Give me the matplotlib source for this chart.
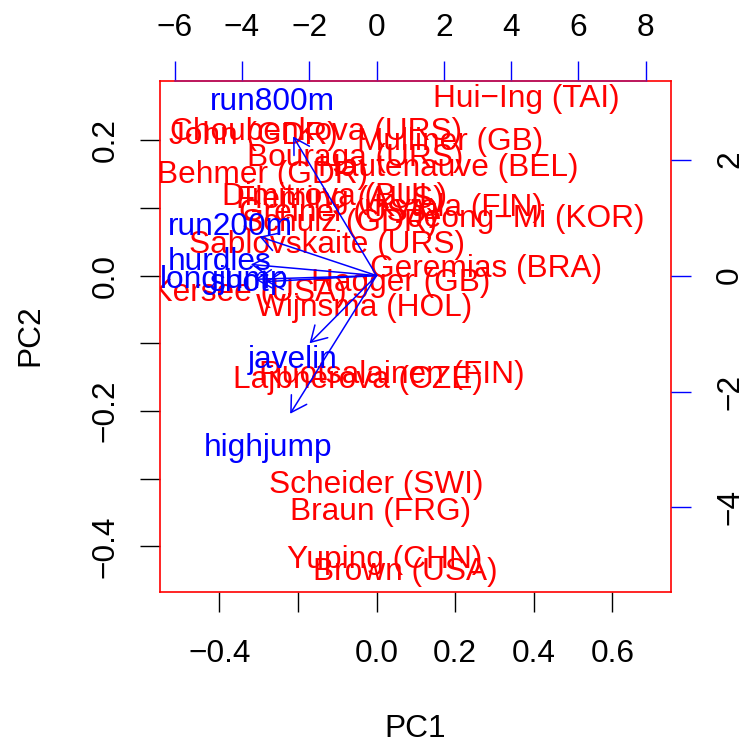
"""
Biplot of the first two principal components of the heptathlon results.
Athlete scores are drawn against the bottom/left axes, event loadings
against the top/right axes.
"""

from __future__ import annotations

import matplotlib

matplotlib.use("Agg")
import matplotlib.pyplot as plt
from matplotlib.patches import FancyArrowPatch

plt.rcParams["font.family"] = ["Liberation Sans", "DejaVu Sans"]

athletes = [
    "Joyner−Kersee (USA)", "John (GDR)", "Behmer (GDR)", "Sablovskaite (URS)",
    "Choubenkova (URS)", "Schulz (GDR)", "Fleming (AUS)", "Greiner (USA)",
    "Lajbnerova (CZE)", "Bouraga (URS)", "Wijnsma (HOL)", "Dimitrova (BUL)",
    "Scheider (SWI)", "Braun (FRG)", "Ruotsalainen (FIN)", "Yuping (CHN)",
    "Hagger (GB)", "Brown (USA)", "Mulliner (GB)", "Hautenauve (BEL)",
    "Kytola (FIN)", "Geremias (BRA)", "Hui−Ing (TAI)", "Jeong−Mi (KOR)",
]
pc1 = [
    -0.468, -0.313, -0.289, -0.126,
    -0.154, -0.094, -0.093, -0.096,
    -0.047, -0.055, -0.032, -0.107,
    -0.002, 0.009, 0.040, 0.021,
    0.062, 0.072, 0.187, 0.182,
    0.208, 0.278, 0.381, 0.380,
]
pc2 = [
    -0.026, 0.206, 0.149, 0.045,
    0.212, 0.078, 0.112, 0.092,
    -0.154, 0.174, -0.048, 0.116,
    -0.309, -0.349, -0.147, -0.420,
    -0.011, -0.438, 0.197, 0.159,
    0.100, 0.010, 0.261, 0.084,
]

events = ["hurdles", "highjump", "shot", "run200m", "longjump", "javelin", "run800m"]
load1 = [-4.67, -3.21, -4.10, -4.35, -4.52, -2.49, -3.10]
load2 = [0.24, -2.98, -0.13, 0.84, -0.08, -1.46, 3.00]

x_ticks = [-0.4, -0.2, 0.0, 0.2, 0.4, 0.6]
x_tick_labels = ["−0.4", "", "0.0", "0.2", "0.4", "0.6"]
y_ticks = [-0.4, -0.3, -0.2, -0.1, 0.0, 0.1, 0.2]
y_tick_labels = ["−0.4", "", "−0.2", "", "0.0", "", "0.2"]
top_ticks = [-6, -4, -2, 0, 2, 4, 6, 8]
right_ticks = [-4, -2, 0, 2]

XLIM = (-0.551, 0.750)
YLIM = (-0.4678, 0.2874)
RATIO = 11.68
ARROW_FRAC = 0.8
FS = 22.8
W, H = 742, 740


def plot(out_file: str = "out.png") -> None:
    fig = plt.figure(figsize=(W / 100, H / 100), dpi=100)
    rect = [160 / W, (H - 592.3) / H, 511.3 / W, 511.3 / H]

    ax = fig.add_axes(rect)
    ax.set_xlim(*XLIM)
    ax.set_ylim(*YLIM)
    for side in ax.spines.values():
        side.set_color("#ff0000")
        side.set_linewidth(1.2)
    ax.set_xticks(x_ticks, x_tick_labels)
    ax.set_yticks(y_ticks, y_tick_labels)
    ax.tick_params(axis="x", length=14.5, width=1.0, pad=19, labelsize=FS)
    ax.tick_params(axis="y", length=14.5, width=1.0, pad=14, labelsize=FS,
                   labelrotation=90)
    for lab in ax.get_yticklabels():
        lab.set_va("center")

    for name, x, y in zip(athletes, pc1, pc2):
        ax.text(x, y, name, color="#ff0000", fontsize=FS, ha="center",
                va="center", clip_on=True)

    # loadings live on a second set of axes sharing the same box
    ax2 = fig.add_axes(rect, facecolor="none")
    ax2.set_xlim(XLIM[0] * RATIO, XLIM[1] * RATIO)
    ax2.set_ylim(YLIM[0] * RATIO, YLIM[1] * RATIO)
    ax2.xaxis.tick_top()
    ax2.yaxis.tick_right()
    ax2.set_xticks(top_ticks, [f"{t}".replace("-", "−") for t in top_ticks])
    ax2.set_yticks(right_ticks, [f"{t}".replace("-", "−") for t in right_ticks])
    ax2.tick_params(axis="x", length=14.5, width=1.0, pad=12.5, labelsize=FS,
                    color="#0000ff")
    ax2.tick_params(axis="y", length=14.5, width=1.0, pad=17, labelsize=FS,
                    color="#0000ff", labelrotation=90)
    for lab in ax2.get_yticklabels():
        lab.set_va("center")
    for key, side in ax2.spines.items():
        side.set_visible(key == "top")
    ax2.spines["top"].set_bounds(top_ticks[0], top_ticks[-1])
    ax2.spines["top"].set_color("#b0186a")
    ax2.spines["top"].set_linewidth(1.2)

    for name, lx, ly in zip(events, load1, load2):
        arrow = FancyArrowPatch(
            (0, 0), (lx * ARROW_FRAC, ly * ARROW_FRAC),
            arrowstyle="->,head_length=11,head_width=6.5",
            mutation_scale=1, color="#0000ff", lw=1.1,
            shrinkA=0, shrinkB=0, clip_on=False,
        )
        ax2.add_patch(arrow)
        ax2.text(lx, ly, name, color="#0000ff", fontsize=FS, ha="center",
                 va="center", clip_on=True)

    fig.text(415.6 / W, 1 - 737 / H, "PC1", fontsize=FS, ha="center",
             va="baseline")
    fig.text(38 / W, 1 - 335 / H, "PC2", fontsize=FS, ha="center",
             va="baseline", rotation=90, rotation_mode="anchor")

    fig.savefig(out_file, dpi=100)
    plt.close(fig)


if __name__ == "__main__":
    plot()
